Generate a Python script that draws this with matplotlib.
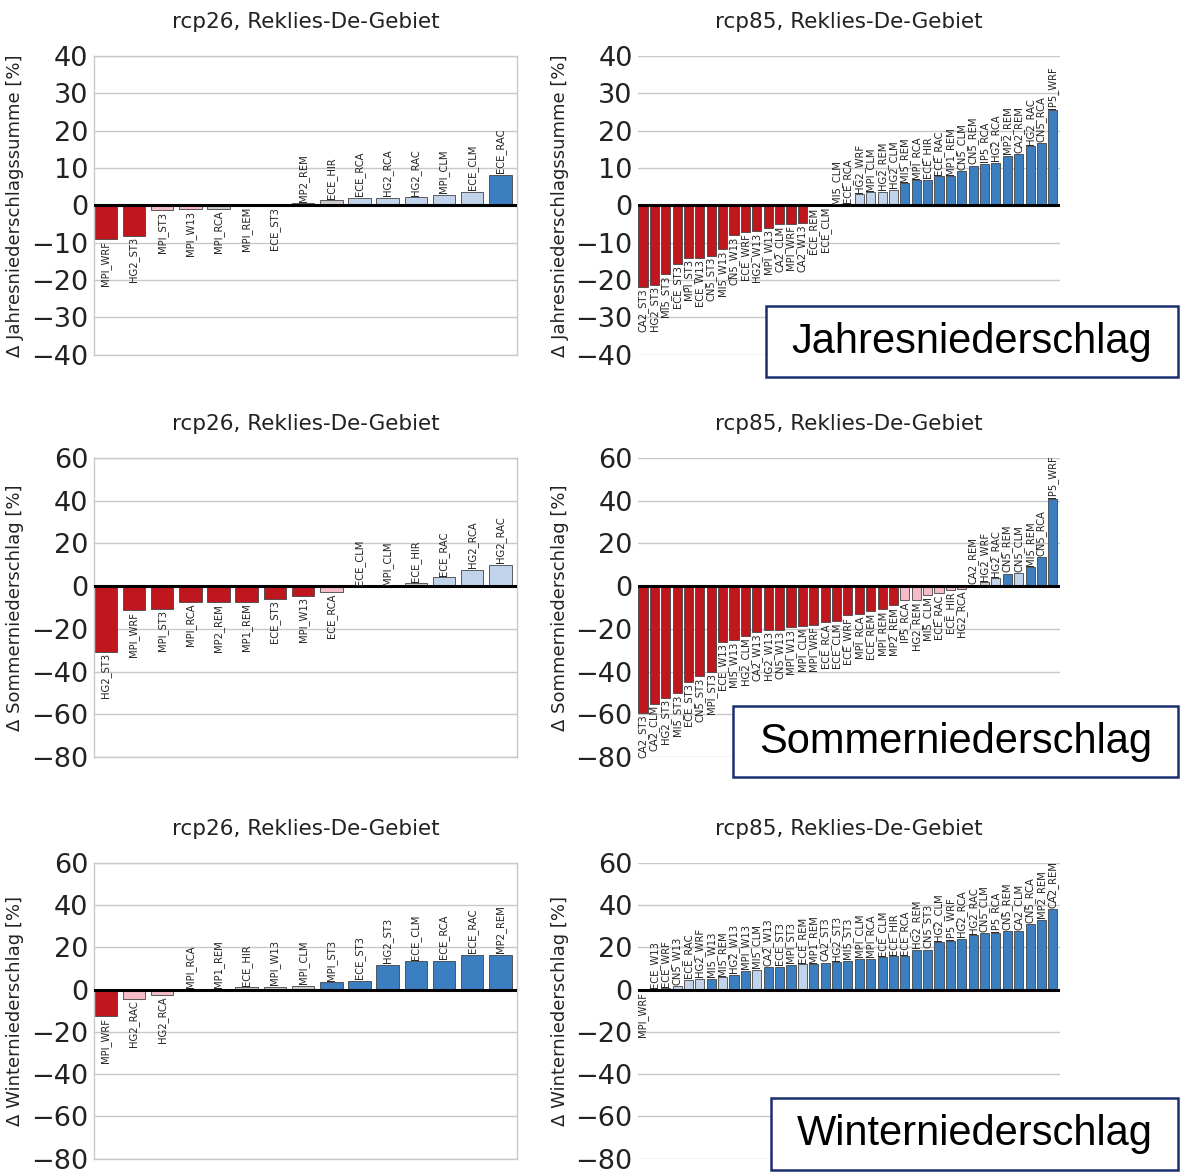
import matplotlib
matplotlib.use("Agg")
import matplotlib.pyplot as plt
from matplotlib.patches import Rectangle

# ---- data -----------------------------------------------------------------
# sig classes: "dr" strong decrease, "pk" weak decrease, "gr" ~zero,
#              "lb" weak increase, "db" strong increase

jahr26_names = ["MPI_WRF", "HG2_ST3", "MPI_ST3", "MPI_W13", "MPI_RCA", "MPI_REM",
                "ECE_ST3", "MP2_REM", "ECE_HIR", "ECE_RCA", "HG2_RCA", "HG2_RAC",
                "MPI_CLM", "ECE_CLM", "ECE_RAC"]
jahr26_vals = [-9.1, -8.1, -1.3, -1.1, -0.9, -0.1, -0.05, 0.6, 1.4, 2.0, 2.0, 2.2,
               2.8, 3.7, 8.2]
jahr26_sig = ["dr", "dr", "pk", "pk", "gr", "gr", "gr", "gr", "gr", "lb", "lb", "lb",
              "lb", "lb", "db"]

jahr85_names = ["CA2_ST3", "HG2_ST3", "MI5_ST3", "ECE_ST3", "MPI_ST3", "ECE_W13",
                "CN5_ST3", "MI5_W13", "CN5_W13", "ECE_WRF", "HG2_W13", "MPI_W13",
                "CA2_CLM", "MPI_WRF", "CA2_W13", "ECE_REM", "ECE_CLM", "MI5_CLM",
                "ECE_RCA", "HG2_WRF", "MPI_CLM", "HG2_REM", "HG2_CLM", "MI5_REM",
                "MPI_RCA", "ECE_HIR", "ECE_RAC", "MP1_REM", "CN5_CLM", "CN5_REM",
                "IP5_RCA", "HG2_RCA", "MP2_REM", "CA2_REM", "HG2_RAC", "CN5_RCA",
                "IP5_WRF"]
jahr85_vals = [-21.8, -21.3, -18.5, -15.6, -14.0, -14.0, -13.5, -11.7, -8.0, -7.1,
               -6.9, -6.0, -5.1, -4.9, -4.6, -0.3, -0.1, 0.1, 0.3, 3.0, 3.5, 3.6,
               4.2, 6.0, 6.8, 6.9, 7.8, 7.8, 9.1, 10.6, 11.1, 11.4, 13.3, 13.7,
               15.8, 16.7, 25.4]
jahr85_sig = ["dr"] * 15 + ["gr", "gr", "gr", "gr"] + ["lb"] * 4 + ["db"] * 14

som26_names = ["HG2_ST3", "MPI_WRF", "MPI_ST3", "MPI_RCA", "MP2_REM", "MP1_REM",
               "ECE_ST3", "MPI_W13", "ECE_RCA", "ECE_CLM", "MPI_CLM", "ECE_HIR",
               "ECE_RAC", "HG2_RCA", "HG2_RAC"]
som26_vals = [-30.7, -11.3, -10.7, -7.6, -7.6, -7.3, -6.0, -4.5, -2.9, 0.1, 0.1,
              1.5, 4.3, 7.8, 10.1]
som26_sig = ["dr"] * 8 + ["pk", "gr", "gr", "gr", "lb", "lb", "lb"]

som85_names = ["CA2_ST3", "CA2_CLM", "HG2_ST3", "MI5_ST3", "ECE_ST3", "CN5_ST3",
               "MPI_ST3", "ECE_W13", "MI5_W13", "HG2_CLM", "CA2_W13", "HG2_W13",
               "CN5_W13", "MPI_W13", "MPI_CLM", "MPI_WRF", "ECE_RCA", "ECE_CLM",
               "ECE_WRF", "MPI_RCA", "ECE_REM", "MPI_REM", "MP2_REM", "IP5_RCA",
               "HG2_REM", "MI5_CLM", "ECE_RAC", "ECE_HIR", "HG2_RCA", "CA2_REM",
               "HG2_WRF", "HG2_RAC", "CN5_REM", "CN5_CLM", "MI5_REM", "CN5_RCA",
               "IP5_WRF"]
som85_vals = [-59.3, -55.0, -52.3, -50.0, -44.9, -42.2, -40.2, -26.2, -25.1, -23.4,
              -21.5, -20.4, -20.4, -19.2, -18.7, -18.1, -16.8, -16.5, -13.7, -12.9,
              -11.8, -10.9, -9.0, -6.7, -6.7, -4.2, -3.1, -2.0, -1.2, 0.2, 2.0, 3.7,
              5.8, 6.2, 8.9, 13.6, 40.8]
som85_sig = ["dr"] * 23 + ["pk"] * 6 + ["gr", "gr", "lb", "db", "lb", "db", "db", "db"]

win26_names = ["MPI_WRF", "HG2_RAC", "HG2_RCA", "MPI_RCA", "MP1_REM", "ECE_HIR",
               "MPI_W13", "MPI_CLM", "MPI_ST3", "ECE_ST3", "HG2_ST3", "ECE_CLM",
               "ECE_RCA", "ECE_RAC", "MP2_REM"]
win26_vals = [-12.6, -4.4, -2.4, 0.2, 0.3, 1.1, 1.4, 1.9, 3.6, 4.3, 11.8, 13.4,
              13.7, 16.6, 16.6]
win26_sig = ["dr", "pk", "pk", "gr", "gr", "gr", "gr", "gr"] + ["db"] * 7

win85_names = ["MPI_WRF", "ECE_W13", "ECE_WRF", "CN5_W13", "ECE_RAC", "HG2_WRF",
               "MI5_W13", "MI5_REM", "HG2_W13", "MPI_W13", "MI5_CLM", "CA2_W13",
               "ECE_ST3", "MPI_ST3", "ECE_REM", "MP1_REM", "CA2_ST3", "HG2_ST3",
               "MI5_ST3", "MPI_CLM", "MPI_RCA", "ECE_CLM", "ECE_HIR", "ECE_RCA",
               "HG2_REM", "CN5_ST3", "HG2_CLM", "IP5_WRF", "HG2_RCA", "HG2_RAC",
               "CN5_CLM", "IP5_RCA", "CN5_REM", "CA2_CLM", "CN5_RCA", "MP2_REM",
               "CA2_REM"]
win85_vals = [-0.3, 0.3, 0.8, 1.6, 4.7, 5.2, 5.2, 5.8, 7.1, 9.0, 9.5, 10.6, 10.9,
              11.8, 12.2, 12.2, 12.8, 13.1, 13.7, 14.7, 14.7, 15.3, 15.8, 15.8, 19.0,
              19.0, 22.4, 22.9, 24.2, 25.8, 26.7, 26.9, 27.6, 27.6, 31.1, 33.2, 38.2]
win85_sig = ["gr", "gr", "gr", "lb", "lb", "lb", "db", "lb", "db", "db", "lb", "db",
             "db", "db", "lb"] + ["db"] * 22

titles = ["rcp26, Reklies-De-Gebiet", "rcp85, Reklies-De-Gebiet"]
ylabels = ["Δ Jahresniederschlagssumme [%]", "Δ Sommerniederschlag [%]",
           "Δ Winterniederschlag [%]"]
box_texts = ["Jahresniederschlag", "Sommerniederschlag", "Winterniederschlag"]

# ---- style ----------------------------------------------------------------
COLORS = {"dr": "#c0161d", "pk": "#f5bcc8", "gr": "#cbcbcf",
          "lb": "#c1d3eb", "db": "#3b7fc1"}

fig = plt.figure(figsize=(11.84, 11.75), dpi=100)

col_x = [0.0794, 0.539]
col_w = [0.357, 0.356]
row_y = [0.698, 0.3557, 0.014]
row_h = [0.2545, 0.2545, 0.2515]
ylims = [(-40, 40), (-80, 60), (-80, 60)]
yticks = [range(-40, 41, 10), range(-80, 61, 20), range(-80, 61, 20)]

panels = [
    [(jahr26_names, jahr26_vals, jahr26_sig), (jahr85_names, jahr85_vals, jahr85_sig)],
    [(som26_names, som26_vals, som26_sig), (som85_names, som85_vals, som85_sig)],
    [(win26_names, win26_vals, win26_sig), (win85_names, win85_vals, win85_sig)],
]

for r in range(3):
    for c in range(2):
        names, vals, sig = panels[r][c]
        ax = fig.add_axes([col_x[c], row_y[r], col_w[c], row_h[r]])
        x = list(range(len(vals)))
        ax.bar(x, vals, width=0.8, color=[COLORS[s] for s in sig],
               edgecolor="#444444", linewidth=0.6, zorder=2)
        ax.axhline(0, color="black", linewidth=2.2, zorder=3)
        for i, (n, v) in enumerate(zip(names, vals)):
            ax.annotate(n, (i, v), xytext=(0, 1 if v >= 0 else -1),
                        textcoords="offset points", rotation=90,
                        ha="center", va="bottom" if v >= 0 else "top",
                        fontsize=7.2 if c == 0 else 7.2, color="#222222", zorder=4)
        ax.set_xlim(-0.42, len(vals) - 0.42 if c == 0 else len(vals) - 0.4)
        ax.set_ylim(*ylims[r])
        ax.set_yticks(list(yticks[r]))
        ax.tick_params(axis="y", labelsize=19.5, length=0, pad=4, colors="#222222")
        ax.set_xticks([])
        ax.yaxis.grid(True, color="#c8c8c8", linewidth=1.0, zorder=0)
        ax.set_axisbelow(True)
        for sp in ax.spines.values():
            if c == 0:
                sp.set_color("#c8c8c8")
                sp.set_linewidth(1.0)
            else:
                sp.set_visible(False)
        ax.set_title(titles[c], fontsize=15.5, pad=20, color="#222222")
        ax.set_ylabel(ylabels[r], fontsize=13, labelpad=5, color="#222222")

# labelled boxes at the right
boxes = [(766, 306, 1178, 377), (733, 706, 1178, 777), (771, 1098, 1178, 1170)]
W, H = 1184, 1175
for (x0, y0, x1, y1), txt in zip(boxes, box_texts):
    fig.patches.append(Rectangle((x0 / W, 1 - y1 / H), (x1 - x0) / W, (y1 - y0) / H,
                                 transform=fig.transFigure, facecolor="white",
                                 edgecolor="#1a2f6e", linewidth=1.8, zorder=10))
    fig.text((x0 + x1) / 2 / W, 1 - (y0 + y1) / 2 / H, txt, ha="center", va="center",
             fontsize=30, family="Liberation Sans", zorder=11)

fig.savefig("out.png", dpi=100)
